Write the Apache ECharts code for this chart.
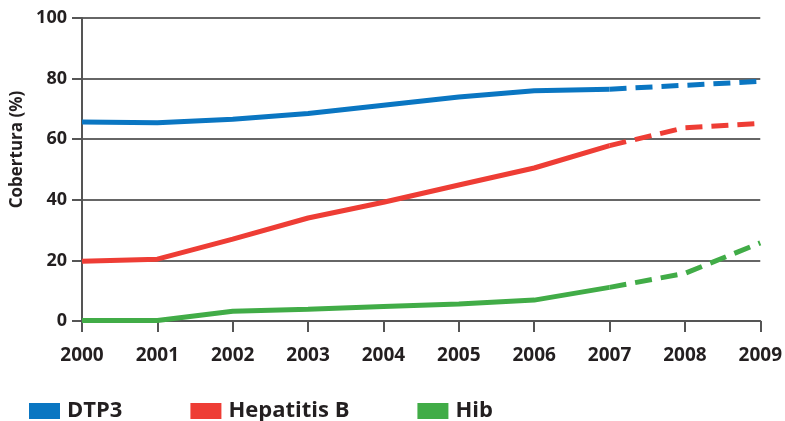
<!DOCTYPE html>
<html>
<head>
<meta charset="utf-8">
<script src="https://cdn.jsdelivr.net/npm/echarts@6/dist/echarts.min.js"></script>
<style>html,body{margin:0;padding:0;background:#fff;}#c{width:785px;height:421px;}</style>
</head>
<body>
<div id="c"></div>
<script>
var years = ['2000','2001','2002','2003','2004','2005','2006','2007','2008','2009'];
var dtp3 = [65.7, 65.4, 66.6, 68.5, 71.2, 73.9, 76.0, 76.5, 77.8, 79.1];
var hepB = [19.7, 20.4, 27.0, 34.0, 39.2, 44.9, 50.5, 57.9, 63.8, 65.2];
var hib  = [0.2, 0.2, 3.2, 3.9, 4.8, 5.6, 6.9, 11.1, 15.7, 25.8];
var yTicks = [0, 20, 40, 60, 80, 100];
var lastSolid = 7; // 2007: solid up to here, dashed after

function solidPart(a){ return a.map(function(v,i){ return i <= lastSolid ? v : null; }); }
function dashPart(a){ return a.map(function(v,i){ return i >= lastSolid ? v : null; }); }

var colors = { 'DTP3':'#0a76c2', 'Hepatitis B':'#ee3d35', 'Hib':'#41ac47' };
var seriesData = [['DTP3', dtp3], ['Hepatitis B', hepB], ['Hib', hib]];
var series = [];
seriesData.forEach(function(s){
  series.push({ name:s[0], type:'line', data:solidPart(s[1]), symbol:'none', connectNulls:false,
    lineStyle:{ color:colors[s[0]], width:5, type:'solid', cap:'butt' }, itemStyle:{color:colors[s[0]]}, z:3 });
  series.push({ name:s[0], type:'line', data:dashPart(s[1]), symbol:'none', connectNulls:false,
    lineStyle:{ color:colors[s[0]], width:5, type:[17,9], cap:'butt' }, itemStyle:{color:colors[s[0]]}, z:3 });
});

var chart = echarts.init(document.getElementById('c'));
chart.setOption({
  animation:false,
  textStyle:{ fontFamily:'Open Sans' },
  grid:{ left:82, right:22, top:18, bottom:100, containLabel:false },
  legend:{
    data:['DTP3','Hepatitis B','Hib'],
    left:29, top:400, padding:0, icon:'rect', itemWidth:31, itemHeight:16, itemGap:68,
    textStyle:{ fontSize:22, fontWeight:'bold', color:'#231f20', fontFamily:'Open Sans', padding:[0,0,0,2] },
    selectedMode:false
  },
  xAxis:{
    type:'category', data:years, boundaryGap:false,
    axisLine:{ show:true, lineStyle:{ color:'#555', width:2 } },
    axisTick:{ show:true, length:11, lineStyle:{ color:'#555', width:2 }, alignWithLabel:true },
    axisLabel:{ fontSize:19, fontWeight:'bold', color:'#231f20', margin:25 },
    splitLine:{ show:false }
  },
  yAxis:{
    type:'value', min:yTicks[0], max:yTicks[yTicks.length-1], interval:20,
    name:'Cobertura (%)', nameLocation:'middle', nameGap:56,
    nameTextStyle:{ fontSize:17, fontWeight:'bold', color:'#231f20', padding:[0,0,0,40] },
    axisLine:{ show:true, lineStyle:{ color:'#555', width:2 } },
    axisTick:{ show:true, length:10, lineStyle:{ color:'#555', width:2 } },
    axisLabel:{ fontSize:18, fontWeight:'bold', color:'#231f20', margin:15 },
    splitLine:{ show:true, lineStyle:{ color:'#333', width:1.5 } }
  },
  series:series
});
</script>
</body>
</html>
